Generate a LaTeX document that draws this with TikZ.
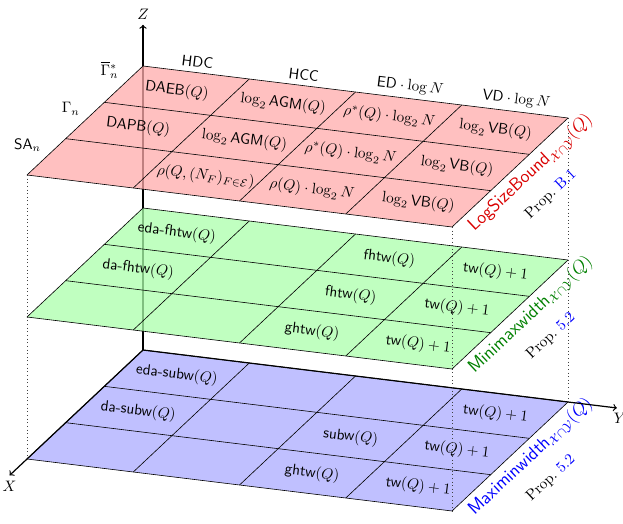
\documentclass[tikz,border=0pt]{standalone}
\usepackage{amsmath,amssymb}
\tikzset{
    layerfill/.style={fill opacity=0.75},
    cell/.style={rotate=-7},
    colhead/.style={above, rotate=-7},
    rowhead/.style={above left},
    sidelabel/.style={rotate=43.2, anchor=north, align=center},
    axis/.style={thick,->},
    guide/.style={dotted, black!75}
    }

\begin{document}
\begin{tikzpicture}[x={(-25.52pt,-23.98pt)}, y={(70.13pt,-8.58pt)}, z={(0pt,93.72pt)}]
        \useasboundingbox (-94.38pt,-114.18pt) rectangle (316.8pt,231pt);
        \coordinate (O) at (0,0,0);
        \coordinate (Xtip) at (3.45,0,0);
        \coordinate (Ytip) at (0,4.46,0);
        \coordinate (Ztip) at (0,0,2.29);
        \draw[axis] (O) -- (Ztip);
        \node[above] (zlab) at (Ztip) {$Z$};

        % the three layers
        \foreach \lz/\lc in {0/blue,1/green,2/red}{
            \fill[fill=\lc!33, layerfill] (0,0,\lz) -- (3,0,\lz) -- (3,4,\lz) -- (0,4,\lz) -- cycle;
            \foreach \r in {0,...,3} \draw (\r,0,\lz) -- (\r,4,\lz);
            \foreach \c in {0,...,4} \draw (0,\c,\lz) -- (3,\c,\lz);
        }

        % top layer
        \node[colhead] (hdc) at (0,0.5,2) {\textsf{HDC}};
        \node[colhead] (hcc) at (0,1.5,2) {\textsf{HCC}};
        \node[colhead] (ed) at (0,2.5,2) {$\mathsf{ED}\cdot\log N$};
        \node[colhead] (vd) at (0,3.5,2) {$\mathsf{VD}\cdot\log N$};
        \node[rowhead] (gbar) at (0.5,0,2) {$\overline{\Gamma}{}^*_n$};
        \node[rowhead] (gam) at (1.5,0,2) {$\Gamma_n$};
        \node[rowhead] (sa) at (2.5,0,2) {$\mathsf{SA}_n$};
        \node[cell] (daeb) at (0.5,0.5,2) {$\mathsf{DAEB}(Q)$};
        \node[cell] (agm1) at (0.5,1.5,2) {$\log_2\mathsf{AGM}(Q)$};
        \node[cell] (rhos1) at (0.5,2.5,2) {$\rho^*(Q)\cdot\log_2 N$};
        \node[cell] (vb1) at (0.5,3.5,2) {$\log_2\mathsf{VB}(Q)$};
        \node[cell] (dapb) at (1.5,0.5,2) {$\mathsf{DAPB}(Q)$};
        \node[cell] (agm2) at (1.5,1.5,2) {$\log_2\mathsf{AGM}(Q)$};
        \node[cell] (rhos2) at (1.5,2.5,2) {$\rho^*(Q)\cdot\log_2 N$};
        \node[cell] (vb2) at (1.5,3.5,2) {$\log_2\mathsf{VB}(Q)$};
        \node[cell] (rhoe) at (2.5,1.5,2) {$\rho(Q,(N_F)_{F\in\mathcal{E}})$};
        \node[cell] (rho) at (2.5,2.5,2) {$\rho(Q)\cdot\log_2 N$};
        \node[cell] (vb3) at (2.5,3.5,2) {$\log_2\mathsf{VB}(Q)$};
        \node[sidelabel] (lsb) at (1.22,4,2) {{\large\textcolor{red!85!black}{$\mathsf{LogSizeBound}_{\mathcal{X}\cap\mathcal{Y}}(Q)$}}\\[7pt]Prop.~\textcolor{blue}{B.1}};

        % middle layer
        \node[cell] (edafh) at (0.5,0.5,1) {\textsf{eda-fhtw}$(Q)$};
        \node[cell] (dafh) at (1.5,0.5,1) {\textsf{da-fhtw}$(Q)$};
        \node[cell] (fh1) at (0.5,2.5,1) {\textsf{fhtw}$(Q)$};
        \node[cell] (fh2) at (1.5,2.5,1) {\textsf{fhtw}$(Q)$};
        \node[cell] (gh1) at (2.5,2.5,1) {\textsf{ghtw}$(Q)$};
        \node[cell] (tw1) at (0.5,3.5,1) {\textsf{tw}$(Q)+1$};
        \node[cell] (tw2) at (1.5,3.5,1) {\textsf{tw}$(Q)+1$};
        \node[cell] (tw3) at (2.5,3.5,1) {\textsf{tw}$(Q)+1$};
        \node[sidelabel] (mmw) at (1.22,4,1) {{\large\textcolor{green!50!black}{\textsf{Minimaxwidth}$_{\mathcal{X}\cap\mathcal{Y}}(Q)$}}\\[7pt]Prop.~\textcolor{blue}{5.2}};

        % bottom layer
        \node[cell] (edasu) at (0.5,0.5,0) {\textsf{eda-subw}$(Q)$};
        \node[cell] (dasu) at (1.5,0.5,0) {\textsf{da-subw}$(Q)$};
        \node[cell] (su) at (1.5,2.5,0) {\textsf{subw}$(Q)$};
        \node[cell] (gh2) at (2.5,2.5,0) {\textsf{ghtw}$(Q)$};
        \node[cell] (tw4) at (0.5,3.5,0) {\textsf{tw}$(Q)+1$};
        \node[cell] (tw5) at (1.5,3.5,0) {\textsf{tw}$(Q)+1$};
        \node[cell] (tw6) at (2.5,3.5,0) {\textsf{tw}$(Q)+1$};
        \node[sidelabel] (xmw) at (1.22,4,0) {{\large\textcolor{blue}{\textsf{Maximinwidth}$_{\mathcal{X}\cap\mathcal{Y}}(Q)$}}\\[7pt]Prop.~\textcolor{blue}{5.2}};

        \draw[axis] (O) -- (Xtip);
        \node[below] (xlab) at (Xtip) {$X$};
        \draw[axis] (O) -- (Ytip);
        \node[below, xshift=2pt] (ylab) at (Ytip) {$Y$};

        \coordinate (tFL) at (3,0,2);
        \coordinate (bFL) at (3,0,0);
        \coordinate (tFR) at (3,4,2);
        \coordinate (bFR) at (3,4,0);
        \coordinate (tBR) at (0,4,2);
        \coordinate (bBR) at (0,4,0);
        \draw[guide] (tFL) -- (bFL);
        \draw[guide] (tFR) -- (bFR);
        \draw[guide] (tBR) -- (bBR);
    \end{tikzpicture}
\end{document}
